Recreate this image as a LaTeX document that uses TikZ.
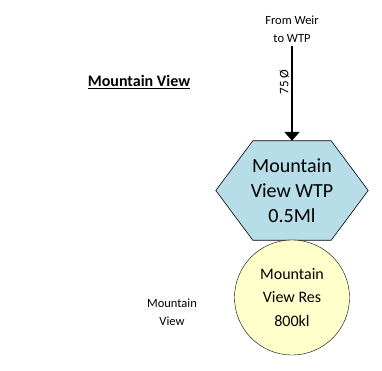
\documentclass[tikz,border=0pt]{standalone}
\usepackage{fontspec}
\setmainfont{Carlito}
\usetikzlibrary{arrows.meta, backgrounds}
\definecolor{wtpcolor}{RGB}{183,221,232}
\definecolor{rescolor}{RGB}{255,255,204}

\begin{document}
\begin{tikzpicture}[x=1pt, y=-1pt]
    \useasboundingbox (0,0) rectangle (382,371);
    % Define the styles for the plant, the reservoir and the labels
    \tikzstyle{plant} = [minimum width=152pt, minimum height=99pt, inner sep=0pt, align=center, font=\fontsize{20}{25}\selectfont]
    \tikzstyle{reservoir} = [draw, fill=rescolor, circle, minimum size=115pt, inner sep=0pt, align=center, font=\fontsize{16}{23.5}\selectfont]
    \tikzstyle{tag} = [align=center, font=\fontsize{12.5}{18.5}\selectfont]

    % Title of the scheme
    \node[font=\fontsize{16}{18}\selectfont\bfseries] (title) at (139,82) {\underline{Mountain View}};

    % Water treatment plant and reservoir
    \node[plant] (wtp) at (292,190.5) {Mountain\\View WTP\\0.5Ml};
    \begin{scope}[on background layer]
        \draw[fill=wtpcolor, line width=0.6pt] (wtp.west) -- ([xshift=37pt]wtp.north west) -- ([xshift=-37pt]wtp.north east)
            -- (wtp.east) -- ([xshift=-37pt]wtp.south east) -- ([xshift=37pt]wtp.south west) -- cycle;
    \end{scope}
    \node[reservoir] (res) at (292,297.5) {Mountain\\View Res\\800kl};

    % Source and town labels
    \node[tag] (source) at (292,29) {From Weir\\to WTP};
    \node[tag] (town) at (172,312) {Mountain\\View};

    % Supply main (pointing from the weir to the plant)
    \draw[-{Triangle[width=15pt,length=9pt]}, line width=2pt] (source.south) -- (wtp.north)
        node[pos=0.38, rotate=90, anchor=south, inner sep=2pt, font=\fontsize{13}{15}\selectfont] {75 Ø};
\end{tikzpicture}
\end{document}
